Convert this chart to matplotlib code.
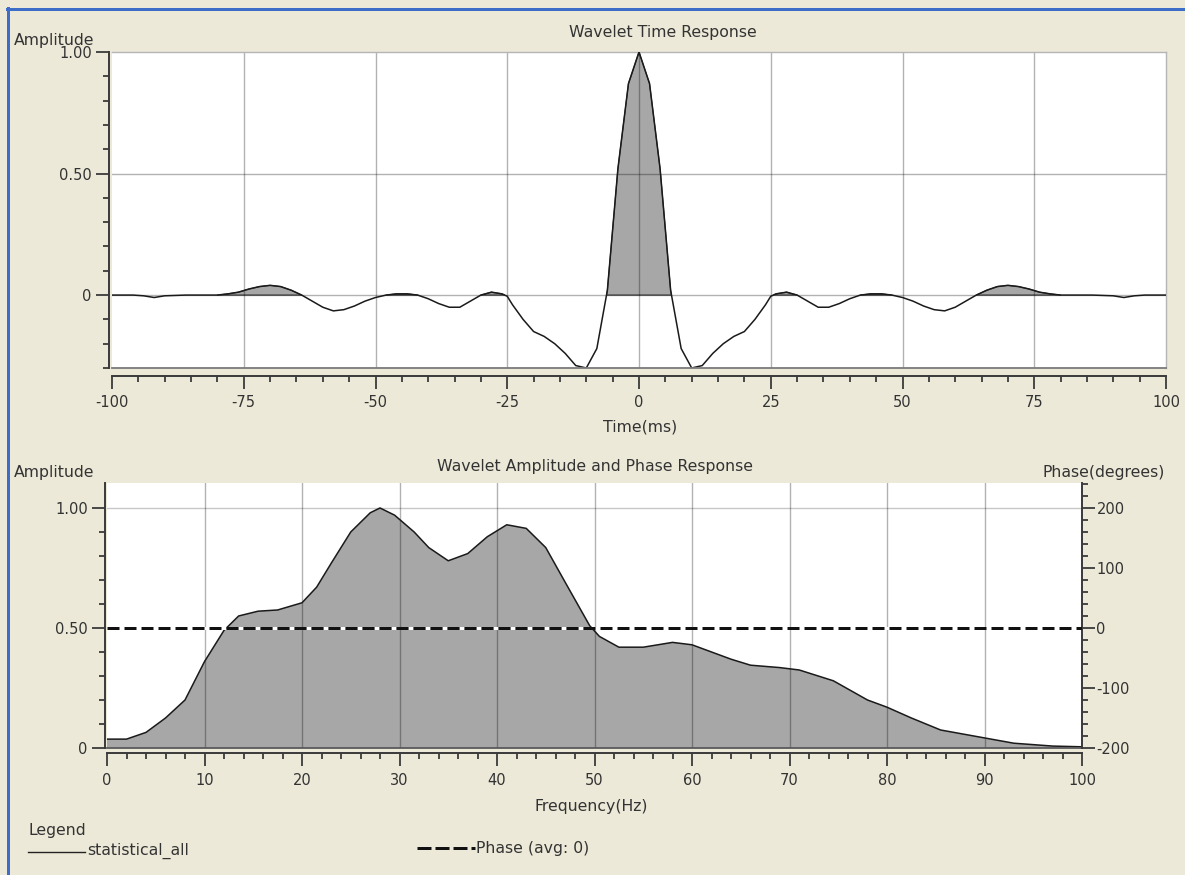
import matplotlib
matplotlib.use('Agg')
import matplotlib.pyplot as plt
from matplotlib.ticker import MultipleLocator, FixedLocator, FuncFormatter
from matplotlib.lines import Line2D
import numpy as np

# ---------------- data ----------------
time_ms = [-100, -96, -94, -92, -90, -86, -82, -80, -78, -76, -74, -72, -70, -68, -66, -64,
           -62, -60, -58, -56, -54, -52, -50, -48, -46, -44, -42, -40, -38, -36, -34, -32,
           -30, -28, -26, -25, -24, -22, -20, -18, -16, -14, -12, -10, -8, -7, -6, -4, -2,
           0, 2, 4, 6, 7, 8, 10, 12, 14, 16, 18, 20, 22, 24, 25, 26, 28, 30, 32, 34, 36,
           38, 40, 42, 44, 46, 48, 50, 52, 54, 56, 58, 60, 62, 64, 66, 68, 70, 72, 74, 76,
           78, 80, 82, 86, 90, 92, 94, 96, 100]
time_amp = [0.0, 0.0, -0.003, -0.01, -0.003, 0.0, 0.0, 0.0, 0.005, 0.012, 0.025, 0.035, 0.04,
            0.035, 0.02, 0.0, -0.025, -0.05, -0.065, -0.06, -0.045, -0.025, -0.01, 0.0,
            0.005, 0.005, 0.0, -0.015, -0.035, -0.05, -0.05, -0.025, 0.0, 0.012, 0.005,
            -0.005, -0.04, -0.10, -0.15, -0.17, -0.20, -0.24, -0.29, -0.30, -0.22, -0.10,
            0.02, 0.52, 0.87,
            1.00, 0.87, 0.52, 0.02, -0.10, -0.22, -0.30, -0.29, -0.24, -0.20, -0.17, -0.15,
            -0.10, -0.04, -0.005, 0.005, 0.012, 0.0, -0.025, -0.05, -0.05, -0.035, -0.015,
            0.0, 0.005, 0.005, 0.0, -0.01, -0.025, -0.045, -0.06, -0.065, -0.05, -0.025,
            0.0, 0.02, 0.035, 0.04, 0.035, 0.025, 0.012, 0.005, 0.0, 0.0, 0.0, -0.003,
            -0.01, -0.003, 0.0, 0.0]

freq_hz = [0, 2, 4, 6, 8, 10, 12, 13.5, 15.5, 17.5, 20, 21.5, 23, 25, 27, 28, 29.5, 31.5,
           33, 35, 37, 39, 41, 43, 45, 47, 49.5, 50.5, 52.5, 55, 58, 60, 62, 64, 66, 69,
           71, 74.5, 78, 80, 82.5, 85.5, 90, 93, 97, 100]
freq_amp = [0.037, 0.037, 0.065, 0.125, 0.20, 0.36, 0.49, 0.55, 0.57, 0.575, 0.605, 0.67,
            0.77, 0.90, 0.98, 1.0, 0.97, 0.90, 0.835, 0.78, 0.81, 0.88, 0.93, 0.915, 0.835,
            0.69, 0.51, 0.465, 0.42, 0.42, 0.44, 0.43, 0.40, 0.37, 0.345, 0.335, 0.325,
            0.28, 0.20, 0.17, 0.125, 0.075, 0.042, 0.02, 0.008, 0.005]

phase_freq = [0, 100]
phase_deg = [0, 0]

top_yticks = [0, 0.5, 1.0]
top_ylabels = ['0', '0.50', '1.00']
bot_yticks = [0, 0.5, 1.0]
bot_ylabels = ['0', '0.50', '1.00']
phase_ticks = [-200, -100, 0, 100, 200]

# ---------------- style ----------------
W, H = 1185, 875
BG = '#ECE9D8'
FILL = '#A7A7A7'
TXT = '#333333'
AX = '#3a3a3a'
FS = 10.5     # tick labels
FT = 11.3     # other text
plt.rcParams['font.family'] = ['DejaVu Sans']
plt.rcParams['lines.scale_dashes'] = False
plt.rcParams['axes.unicode_minus'] = False

def fx(x):
    return x / W

def fy(y):
    return 1 - y / H

def pt(p):
    return p * 72 / 100

fig = plt.figure(figsize=(W / 100, H / 100), dpi=100, facecolor=BG)

# ================= top: time response =================
ax1 = fig.add_axes([fx(112), fy(368), (1166 - 112) / W, (368 - 52) / H])
ax1.set_facecolor('white')
ax1.set_xlim(-100, 100)
ax1.set_ylim(-0.3, 1.0)
t = np.array(time_ms, dtype=float)
a = np.array(time_amp, dtype=float)
ax1.fill_between(t, a, 0, where=a > 0, interpolate=True, facecolor=FILL,
                 edgecolor='#333333', linewidth=0.8, zorder=1)
for xv in [-75, -50, -25, 0, 25, 50, 75]:
    ax1.axvline(xv, color='black', alpha=0.3, lw=1.0, zorder=1.5)
for yv in [0, 0.5]:
    ax1.axhline(yv, color='black', alpha=0.3, lw=1.0, zorder=1.5)
ax1.plot(t, a, color='#1a1a1a', lw=1.1, zorder=3)
ax1.axhline(-0.3, color='#7a7a7a', lw=1.3, zorder=4, clip_on=False)

for s in ['top', 'right']:
    ax1.spines[s].set_color('#b5b5b5')
    ax1.spines[s].set_linewidth(1.0)
ax1.spines['left'].set_position(('outward', pt(3)))
ax1.spines['bottom'].set_position(('outward', pt(8)))
for s in ['left', 'bottom']:
    ax1.spines[s].set_color(AX)
    ax1.spines[s].set_linewidth(1.4)

ax1.xaxis.set_major_locator(MultipleLocator(25))
ax1.xaxis.set_minor_locator(MultipleLocator(5))
ax1.yaxis.set_major_locator(FixedLocator(top_yticks))
ax1.yaxis.set_major_formatter(FuncFormatter(lambda v, p: top_ylabels[top_yticks.index(round(v, 2))] if round(v, 2) in top_yticks else ''))
ax1.yaxis.set_minor_locator(FixedLocator([-0.3, -0.2, -0.1, 0.1, 0.2, 0.3, 0.4, 0.6, 0.7, 0.8, 0.9]))
ax1.tick_params(axis='both', which='major', length=pt(13), width=1.3, color=AX,
                labelsize=FS, labelcolor=TXT)
ax1.tick_params(axis='both', which='minor', length=pt(6), width=1.3, color=AX)
ax1.tick_params(axis='x', which='major', pad=4)
ax1.tick_params(axis='y', which='major', pad=3)

# ================= bottom: amplitude & phase =================
ax2 = fig.add_axes([fx(107), fy(748), (1082 - 107) / W, (748 - 483) / H])
ax2.set_facecolor('white')
ax2.set_xlim(0, 100)
ax2.set_ylim(0.0, 1.104)
f = np.array(freq_hz, dtype=float)
fa = np.array(freq_amp, dtype=float)
ax2.fill_between(f, fa, 0, facecolor=FILL, edgecolor='none', zorder=1)
for xv in range(10, 100, 10):
    ax2.axvline(xv, color='black', alpha=0.3, lw=1.0, zorder=1.5)
ax2.axhline(1.0, color='black', alpha=0.22, lw=1.0, zorder=1.5)
ax2.plot(f, fa, color='#1a1a1a', lw=1.1, zorder=3)
ax2.axhline(0.0, color='#5a5a5a', lw=1.3, zorder=4, clip_on=False)

for s in ['top', 'right']:
    ax2.spines[s].set_visible(False)
ax2.spines['left'].set_position(('outward', pt(2)))
ax2.spines['bottom'].set_position(('outward', pt(5)))
for s in ['left', 'bottom']:
    ax2.spines[s].set_color(AX)
    ax2.spines[s].set_linewidth(1.4)
ax2.xaxis.set_major_locator(MultipleLocator(10))
ax2.xaxis.set_minor_locator(MultipleLocator(2))
ax2.yaxis.set_major_locator(FixedLocator(bot_yticks))
ax2.yaxis.set_major_formatter(FuncFormatter(lambda v, p: bot_ylabels[bot_yticks.index(round(v, 2))] if round(v, 2) in bot_yticks else ''))
ax2.yaxis.set_minor_locator(FixedLocator([0.1, 0.2, 0.3, 0.4, 0.6, 0.7, 0.8, 0.9]))
ax2.tick_params(axis='both', which='major', length=pt(13), width=1.3, color=AX,
                labelsize=FS, labelcolor=TXT)
ax2.tick_params(axis='both', which='minor', length=pt(6), width=1.3, color=AX)
ax2.tick_params(axis='x', which='major', pad=5)
ax2.tick_params(axis='y', which='major', pad=3)

ax3 = ax2.twinx()
lo, hi = ax2.get_ylim()
ax3.set_ylim((lo - 0.5) * 400, (hi - 0.5) * 400)
for s in ['top', 'left', 'bottom']:
    ax3.spines[s].set_visible(False)
ax3.spines['right'].set_color(AX)
ax3.spines['right'].set_linewidth(1.4)
ax3.yaxis.set_major_locator(FixedLocator(phase_ticks))
ax3.yaxis.set_minor_locator(MultipleLocator(20))
ax3.tick_params(axis='y', which='major', length=pt(13), width=1.3, color=AX,
                labelsize=FS, labelcolor=TXT, pad=1)
ax3.tick_params(axis='y', which='minor', length=pt(6), width=1.3, color=AX)
ax3.plot(phase_freq, phase_deg, color='#111111', lw=pt(3), dashes=(pt(12), pt(5)),
         gapcolor='white', zorder=5, solid_capstyle='butt', dash_capstyle='butt')

# ================= texts =================
def ftext(x, y, s, ha='left', va='center', size=FT):
    fig.text(fx(x), fy(y), s, ha=ha, va=va, fontsize=size, color=TXT)

ftext(14, 40, 'Amplitude')
ftext(663, 33, 'Wavelet Time Response', ha='center')
ftext(640, 427, 'Time(ms)', ha='center')
ftext(14, 473, 'Amplitude')
ftext(595, 467, 'Wavelet Amplitude and Phase Response', ha='center')
ftext(1165, 473, 'Phase(degrees)', ha='right')
ftext(591, 807, 'Frequency(Hz)', ha='center')
ftext(29, 830, 'Legend')
ftext(87, 851, 'statistical_all')
ftext(476, 848, 'Phase (avg: 0)')

fig.add_artist(Line2D([fx(28), fx(85)], [fy(852), fy(852)], color='#222222', lw=1.0))
fig.add_artist(Line2D([fx(417), fx(475)], [fy(848), fy(848)], color='#111111', lw=pt(3),
                      dashes=(pt(14), pt(4)), dash_capstyle='butt'))

# blue window frame (top and left)
fig.add_artist(Line2D([fx(7), fx(W)], [fy(9), fy(9)], color='#3C6DC8', lw=pt(3)))
fig.add_artist(Line2D([fx(8), fx(8)], [fy(8), fy(H)], color='#3C6DC8', lw=pt(3)))

fig.savefig('out.png', dpi=100, facecolor=BG)
